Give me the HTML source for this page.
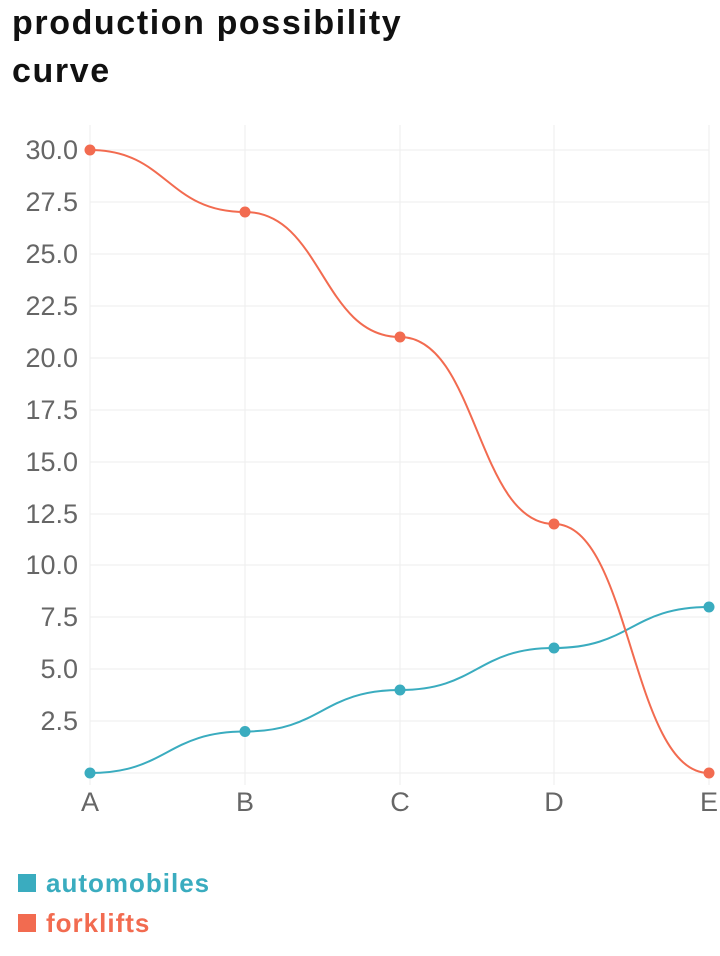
<!DOCTYPE html>
<html><head><meta charset="utf-8"><style>
html,body{margin:0;padding:0;background:#fff;width:720px;height:956px;overflow:hidden}
svg{display:block}
</style></head><body>
<svg width="720" height="956" xmlns="http://www.w3.org/2000/svg" font-family="Liberation Sans, sans-serif">
<text x="12" y="34" font-size="34" font-weight="bold" fill="#111" letter-spacing="1.6">production possibility</text>
<text x="12" y="82" font-size="34" font-weight="bold" fill="#111" letter-spacing="1.6">curve</text>
<g stroke="#eeeeee" stroke-width="1">
<line x1="90" y1="125" x2="90" y2="785"/>
<line x1="245" y1="125" x2="245" y2="785"/>
<line x1="400" y1="125" x2="400" y2="785"/>
<line x1="554" y1="125" x2="554" y2="785"/>
<line x1="709" y1="125" x2="709" y2="785"/>
<line x1="90" y1="150" x2="709" y2="150"/>
<line x1="90" y1="202" x2="709" y2="202"/>
<line x1="90" y1="254" x2="709" y2="254"/>
<line x1="90" y1="306" x2="709" y2="306"/>
<line x1="90" y1="358" x2="709" y2="358"/>
<line x1="90" y1="410" x2="709" y2="410"/>
<line x1="90" y1="462" x2="709" y2="462"/>
<line x1="90" y1="514" x2="709" y2="514"/>
<line x1="90" y1="565" x2="709" y2="565"/>
<line x1="90" y1="617" x2="709" y2="617"/>
<line x1="90" y1="669" x2="709" y2="669"/>
<line x1="90" y1="721" x2="709" y2="721"/>
<line x1="90" y1="773" x2="709" y2="773"/>
</g>
<g font-size="27" fill="#666" text-anchor="end">
<text x="78" y="159">30.0</text><text x="78" y="211">27.5</text><text x="78" y="263">25.0</text>
<text x="78" y="315">22.5</text><text x="78" y="367">20.0</text><text x="78" y="419">17.5</text>
<text x="78" y="471">15.0</text><text x="78" y="523">12.5</text><text x="78" y="574">10.0</text>
<text x="78" y="626">7.5</text><text x="78" y="678">5.0</text><text x="78" y="730">2.5</text>
</g>
<g font-size="27" fill="#666" text-anchor="middle">
<text x="90" y="811">A</text><text x="245" y="811">B</text><text x="400" y="811">C</text><text x="554" y="811">D</text><text x="709" y="811">E</text>
</g>
<path d="M90,773 C167,773 167,731.5 245,731.5 C322,731.5 322,690 400,690 C477,690 477,648 554,648 C631,648 631,607 709,607" fill="none" stroke="#3aacbf" stroke-width="2"/>
<path d="M90,150 C167,150 167,212 245,212 C322,212 322,337 400,337 C477,337 477,524 554,524 C631,524 631,773 709,773" fill="none" stroke="#f26b50" stroke-width="2"/>
<g fill="#3aacbf"><circle cx="90" cy="773" r="5.5"/><circle cx="245" cy="731.5" r="5.5"/><circle cx="400" cy="690" r="5.5"/><circle cx="554" cy="648" r="5.5"/><circle cx="709" cy="607" r="5.5"/></g>
<g fill="#f26b50"><circle cx="90" cy="150" r="5.5"/><circle cx="245" cy="212" r="5.5"/><circle cx="400" cy="337" r="5.5"/><circle cx="554" cy="524" r="5.5"/><circle cx="709" cy="773" r="5.5"/></g>
<rect x="18" y="874" width="18" height="18" fill="#3aacbf"/>
<text x="46" y="892" font-size="26" font-weight="bold" fill="#3aacbf" letter-spacing="1">automobiles</text>
<rect x="18" y="914" width="18" height="18" fill="#f26b50"/>
<text x="46" y="932" font-size="26" font-weight="bold" fill="#f26b50" letter-spacing="1">forklifts</text>
</svg>
</body></html>
